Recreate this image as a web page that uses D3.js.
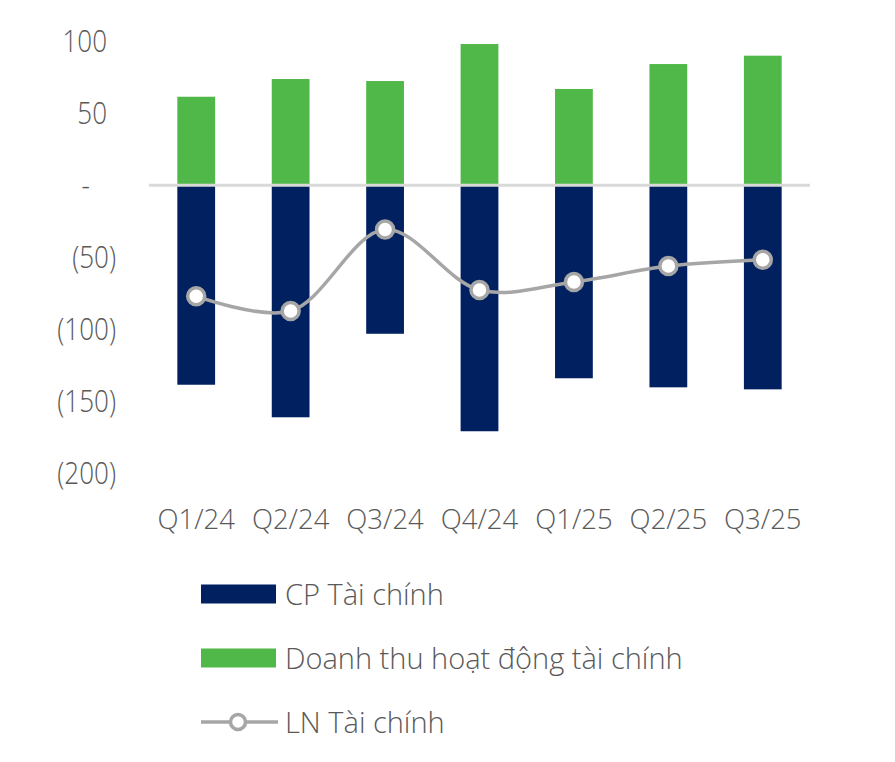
<!DOCTYPE html>
<html lang="vi">
<head>
<meta charset="UTF-8">
<title>Tài chính</title>
<script src="https://cdn.jsdelivr.net/npm/d3@7"></script>
<style>
  body { margin: 0; background: #fff; }
  svg { display: block; font-family: "Open Sans", "Noto Sans", sans-serif; font-weight: 300; }
</style>
</head>
<body>
<script>
// values (tỷ đồng)
const quarters = ["Q1/24", "Q2/24", "Q3/24", "Q4/24", "Q1/25", "Q2/25", "Q3/25"];
const doanhThu = [61.5, 73.8, 72.4, 98.1, 66.9, 84.2, 90.0];
const cpTaiChinh = [-138.5, -161.1, -103.1, -170.8, -134.0, -140.3, -141.7];
const lnTaiChinh = [-77.0, -87.3, -30.7, -72.7, -67.1, -56.1, -51.7];
const yTicks = [-200, -150, -100, -50, 0, 50, 100];

const width = 895, height = 762;
const navy = "#002060", green = "#50b848", grey = "#a6a6a6", textCol = "#595959";

const svg = d3.select("body").append("svg").attr("width", width).attr("height", height);

const x = d3.scaleBand().domain(quarters).range([149, 810]).paddingInner(0.6).paddingOuter(0.3);
const y = d3.scaleLinear().domain([-200, 100]).range([473.3, 41.3]);

// y axis, Excel accounting style labels
const yAxis = svg.append("g").attr("transform", "translate(116,0)")
    .call(d3.axisLeft(y).tickValues(yTicks).tickSize(0)
        .tickFormat(d => d === 0 ? "-" : d < 0 ? `(${-d})` : d));
yAxis.select(".domain").remove();
yAxis.selectAll("text")
    .attr("fill", textCol).attr("font-size", 31).attr("font-family", "Open Sans").attr("font-weight", 300)
    .attr("x", 0)
    .attr("transform", d => `translate(${d > 0 ? -9 : d < 0 ? 0 : -26},0) scale(0.84,1)`);

// bars
svg.append("g").selectAll("rect.rev")
    .data(quarters)
    .join("rect")
    .attr("x", d => x(d))
    .attr("width", x.bandwidth())
    .attr("y", (d, i) => y(doanhThu[i]))
    .attr("height", (d, i) => y(0) - y(doanhThu[i]))
    .attr("fill", green);

svg.append("g").selectAll("rect.cost")
    .data(quarters)
    .join("rect")
    .attr("x", d => x(d))
    .attr("width", x.bandwidth())
    .attr("y", y(0))
    .attr("height", (d, i) => y(cpTaiChinh[i]) - y(0))
    .attr("fill", navy);

// zero line
svg.append("line")
    .attr("x1", 149).attr("x2", 810)
    .attr("y1", y(0)).attr("y2", y(0))
    .attr("stroke", "#d9d9d9").attr("stroke-width", 3);

// profit line
const line = d3.line()
    .x((d, i) => x(quarters[i]) + x.bandwidth() / 2)
    .y(d => y(d))
    .curve(d3.curveCatmullRom);

svg.append("path")
    .datum(lnTaiChinh)
    .attr("d", line)
    .attr("fill", "none")
    .attr("stroke", grey)
    .attr("stroke-width", 3.5);

svg.append("g").selectAll("circle")
    .data(lnTaiChinh)
    .join("circle")
    .attr("cx", (d, i) => x(quarters[i]) + x.bandwidth() / 2)
    .attr("cy", d => y(d))
    .attr("r", 8.5)
    .attr("fill", "#fff")
    .attr("stroke", grey)
    .attr("stroke-width", 3.5);

// x axis
const xAxis = svg.append("g").attr("transform", "translate(0,506)")
    .call(d3.axisBottom(x).tickSize(0).tickPadding(3));
xAxis.select(".domain").remove();
xAxis.selectAll("text")
    .attr("fill", textCol).attr("font-size", 27.5).attr("font-family", "Open Sans").attr("font-weight", 300);

// legend
const legendItems = [
  {label: "CP Tài chính", type: "bar", color: navy},
  {label: "Doanh thu hoạt động tài chính", type: "bar", color: green},
  {label: "LN Tài chính", type: "line", color: grey}
];
const legend = svg.append("g").selectAll("g")
    .data(legendItems)
    .join("g")
    .attr("transform", (d, i) => `translate(201,${594 + i * 64})`);

legend.filter(d => d.type === "bar").append("rect")
    .attr("x", 0).attr("y", -9.5).attr("width", 75).attr("height", 19)
    .attr("fill", d => d.color);

const lg = legend.filter(d => d.type === "line");
lg.append("line")
    .attr("x1", 0).attr("x2", 77).attr("y1", 0).attr("y2", 0)
    .attr("stroke", grey).attr("stroke-width", 3.5);
lg.append("circle")
    .attr("cx", 37).attr("cy", 0).attr("r", 7.5)
    .attr("fill", "#fff").attr("stroke", grey).attr("stroke-width", 3.5);

legend.append("text")
    .attr("x", 84).attr("y", 10.5)
    .attr("font-size", 29)
    .attr("fill", textCol)
    .text(d => d.label);
</script>
</body>
</html>
